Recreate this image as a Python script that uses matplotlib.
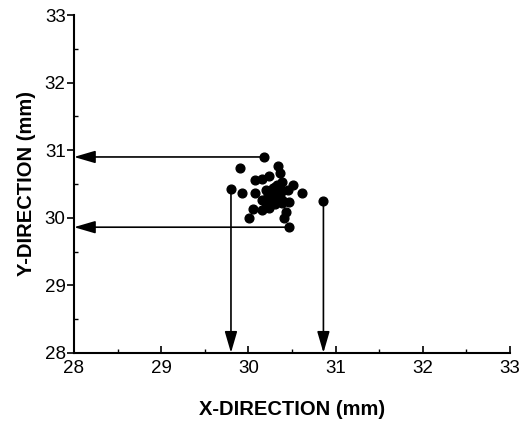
import matplotlib.pyplot as plt
from matplotlib.ticker import MultipleLocator

plt.rcParams['font.family'] = ['Liberation Sans', 'DejaVu Sans']

# measured positions (mm)
xs = [30.18, 29.90, 30.34, 30.36, 30.07, 30.16, 30.24, 30.38, 30.51, 29.80,
      29.93, 30.07, 30.20, 30.22, 30.30, 30.39, 30.45, 30.62, 30.16, 30.26,
      30.38, 30.47, 30.86, 30.05, 30.16, 30.24, 30.01, 30.43, 30.41, 30.47,
      30.30, 30.33, 30.27, 30.20, 30.30, 30.39, 30.35, 30.28, 30.32, 30.25]
ys = [30.90, 30.73, 30.76, 30.66, 30.56, 30.58, 30.62, 30.53, 30.49, 30.42,
      30.37, 30.37, 30.41, 30.34, 30.36, 30.39, 30.41, 30.36, 30.26, 30.24,
      30.26, 30.24, 30.25, 30.13, 30.12, 30.14, 29.99, 30.09, 29.99, 29.86,
      30.46, 30.48, 30.31, 30.22, 30.20, 30.22, 30.30, 30.44, 30.40, 30.30]

# extremes of the scatter, projected onto the axes
top = (30.18, 30.90)
bottom = (30.47, 29.86)
left = (29.80, 30.42)
right = (30.86, 30.25)

fig = plt.figure(figsize=(5.21, 4.21), dpi=100)
ax = fig.add_axes([0.142, 0.162, 0.837, 0.802])

ax.plot(xs, ys, 'o', color='black', markersize=6.3)

arrow = dict(arrowstyle='-|>,head_length=1.3,head_width=0.38', color='black', lw=1.2,
             shrinkA=0, shrinkB=0)
ax.annotate('', xy=(28.0, top[1]), xytext=top, arrowprops=arrow)
ax.annotate('', xy=(28.0, bottom[1]), xytext=bottom, arrowprops=arrow)
ax.annotate('', xy=(left[0], 28.0), xytext=left, arrowprops=arrow)
ax.annotate('', xy=(right[0], 28.0), xytext=right, arrowprops=arrow)

ax.set_xlim(28, 33)
ax.set_ylim(28, 33)
ax.xaxis.set_major_locator(MultipleLocator(1))
ax.yaxis.set_major_locator(MultipleLocator(1))
ax.xaxis.set_minor_locator(MultipleLocator(0.5))
ax.yaxis.set_minor_locator(MultipleLocator(0.5))
ax.tick_params(axis='x', which='major', direction='in', length=5, width=1.2, labelsize=13.5, pad=5)
ax.tick_params(axis='x', which='minor', direction='in', length=3, width=1)
ax.tick_params(axis='y', which='major', direction='out', length=5, width=1.2, labelsize=13.5, pad=1)
ax.tick_params(axis='y', which='minor', direction='in', length=3, width=1)

for s in ['top', 'right']:
    ax.spines[s].set_visible(False)
for s in ['left', 'bottom']:
    ax.spines[s].set_linewidth(1.5)

ax.set_xlabel('X-DIRECTION (mm)', fontsize=14.5, fontweight='bold', labelpad=17)
ax.set_ylabel('Y-DIRECTION (mm)', fontsize=14.5, fontweight='bold', labelpad=6)

fig.savefig('out.png', dpi=100)
